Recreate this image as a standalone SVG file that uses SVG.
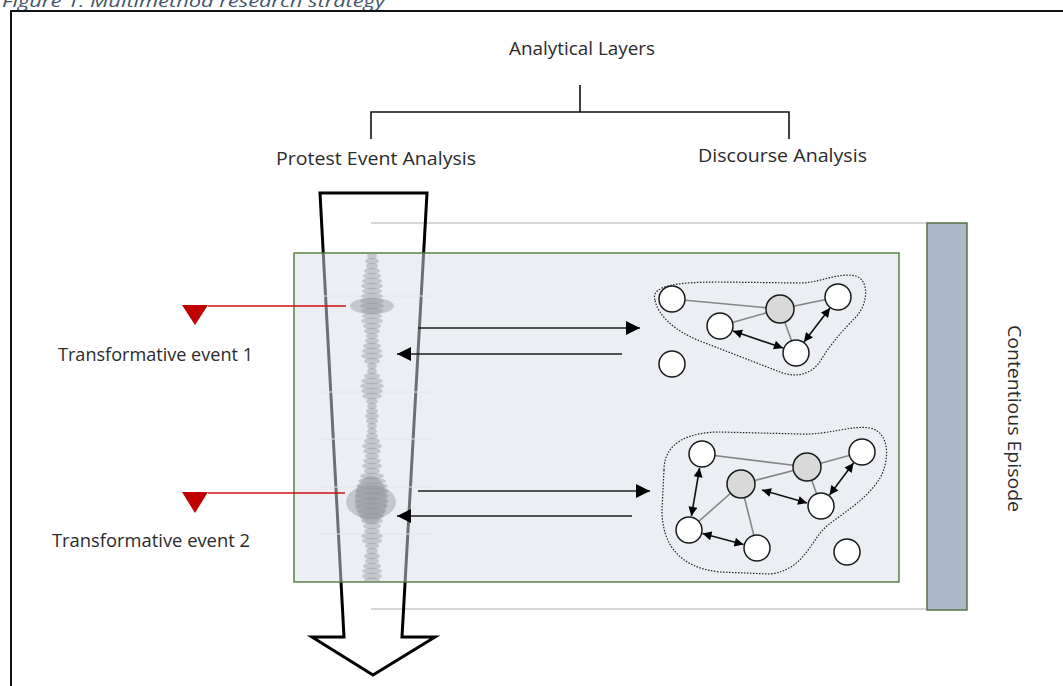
<svg xmlns="http://www.w3.org/2000/svg" width="1063" height="686" viewBox="0 0 1063 686">
  <style>
    .lbl { font-family: "Open Sans", "Liberation Sans", sans-serif; font-size: 18px; font-weight: 400; fill: #2B2B2B; }
    .cap { font-family: "Open Sans", "Liberation Sans", sans-serif; font-size: 17px; font-style: italic; fill: #44546A; }
    .tree { stroke: #111; stroke-width: 1.6; fill: none; }
    .guide { stroke: #C9C9C9; stroke-width: 1.6; }
    .faint { stroke: #E2E6EA; stroke-width: 1; }
    .wave { fill: #8E9297; fill-opacity: 0.42; }
    .red { stroke: #D01010; stroke-width: 1.4; }
    .redtri { fill: #C00000; }
    .flow { stroke: #1E1E1E; stroke-width: 1.6; fill: none; }
    .tie { stroke: #858585; stroke-width: 1.6; }
    .dbl { stroke: #111; stroke-width: 1.6; fill: none; }
    .actor { fill: #FFFFFF; stroke: #1A1A1A; stroke-width: 1.5; }
    .hub { fill: #D9D9D9; stroke: #1A1A1A; stroke-width: 1.5; }
    .blob { fill: none; stroke: #222; stroke-width: 1.2; stroke-dasharray: 1.5 1.5; }
  </style>
  <defs>
    <marker id="head" viewBox="0 0 10 10" refX="10" refY="5" markerWidth="17" markerHeight="14" markerUnits="userSpaceOnUse" orient="auto-start-reverse">
      <path d="M0,0 L10,5 L0,10 z" fill="#000"/>
    </marker>
    <marker id="tip" viewBox="0 0 10 10" refX="10" refY="5" markerWidth="11" markerHeight="9" markerUnits="userSpaceOnUse" orient="auto-start-reverse">
      <path d="M0,0 L10,5 L0,10 z" fill="#000"/>
    </marker>
  </defs>

  <rect width="1063" height="686" fill="#FFFFFF"/>

  <!-- caption, running above the frame -->
  <text class="cap" x="2" y="7" textLength="383" lengthAdjust="spacingAndGlyphs">Figure 1: Multimethod research strategy</text>

  <!-- outer frame -->
  <rect x="11" y="11" width="1070" height="690" fill="none" stroke="#111" stroke-width="2"/>

  <!-- layer tree -->
  <g id="layers">
    <text class="lbl" x="509" y="55" textLength="146" lengthAdjust="spacingAndGlyphs">Analytical Layers</text>
    <path class="tree" d="M580,85 V112 M371,139 V112 H789 V139"/>
    <text class="lbl" x="276" y="165" textLength="200" lengthAdjust="spacingAndGlyphs">Protest Event Analysis</text>
    <text class="lbl" x="698" y="162" textLength="169" lengthAdjust="spacingAndGlyphs">Discourse Analysis</text>
  </g>

  <!-- episode boundary guides -->
  <line class="guide" x1="371" y1="223" x2="928" y2="223"/>
  <line class="guide" x1="371" y1="609" x2="928" y2="609"/>

  <!-- time arrow -->
  <g id="time-arrow">
    <path d="M320,193 H427 L402,637 H435 L373,675 L312,637 H344 Z" fill="none" stroke="#000" stroke-width="3" stroke-linejoin="miter"/>
  </g>

  <!-- episode panel -->
  <g id="panel">
    <rect x="294" y="253" width="605" height="329" fill="#D7DDE5" fill-opacity="0.5" stroke="none"/>
    <rect x="294" y="253" width="605" height="329" fill="none" stroke="#4F7A3A" stroke-width="1.4"/>
    <g>
      <line class="faint" x1="318" y1="296" x2="432" y2="296"/>
      <line class="faint" x1="318" y1="392" x2="432" y2="392"/>
      <line class="faint" x1="318" y1="439" x2="432" y2="439"/>
      <line class="faint" x1="318" y1="487" x2="432" y2="487"/>
      <line class="faint" x1="318" y1="534" x2="432" y2="534"/>
    </g>
  </g>

  <!-- protest event frequency -->
  <g id="event-series">
    <ellipse class="wave" cx="372" cy="306" rx="22" ry="8"/>
    <ellipse class="wave" cx="371" cy="502" rx="25" ry="17"/>
    <ellipse class="wave" cx="371" cy="500" rx="16" ry="24"/>
    <ellipse class="wave" cx="372" cy="256" rx="5" ry="3.2"/>
    <ellipse class="wave" cx="372" cy="261" rx="7" ry="3.2"/>
    <ellipse class="wave" cx="372" cy="266" rx="6" ry="3.2"/>
    <ellipse class="wave" cx="372" cy="271" rx="8" ry="3.2"/>
    <ellipse class="wave" cx="372" cy="276" rx="9" ry="3.2"/>
    <ellipse class="wave" cx="372" cy="281" rx="10" ry="3.2"/>
    <ellipse class="wave" cx="372" cy="286" rx="11" ry="3.2"/>
    <ellipse class="wave" cx="372" cy="291" rx="10" ry="3.2"/>
    <ellipse class="wave" cx="372" cy="296" rx="11" ry="3.2"/>
    <ellipse class="wave" cx="372" cy="301" rx="12" ry="3.2"/>
    <ellipse class="wave" cx="372" cy="306" rx="12" ry="3.2"/>
    <ellipse class="wave" cx="372" cy="311" rx="11" ry="3.2"/>
    <ellipse class="wave" cx="372" cy="316" rx="10" ry="3.2"/>
    <ellipse class="wave" cx="372" cy="321" rx="11" ry="3.2"/>
    <ellipse class="wave" cx="372" cy="326" rx="9" ry="3.2"/>
    <ellipse class="wave" cx="372" cy="331" rx="8" ry="3.2"/>
    <ellipse class="wave" cx="372" cy="336" rx="6" ry="3.2"/>
    <ellipse class="wave" cx="372" cy="341" rx="7" ry="3.2"/>
    <ellipse class="wave" cx="372" cy="346" rx="9" ry="3.2"/>
    <ellipse class="wave" cx="372" cy="351" rx="10" ry="3.2"/>
    <ellipse class="wave" cx="372" cy="356" rx="11" ry="3.2"/>
    <ellipse class="wave" cx="372" cy="361" rx="8" ry="3.2"/>
    <ellipse class="wave" cx="372" cy="366" rx="5" ry="3.2"/>
    <ellipse class="wave" cx="372" cy="371" rx="5" ry="3.2"/>
    <ellipse class="wave" cx="372" cy="376" rx="8" ry="3.2"/>
    <ellipse class="wave" cx="372" cy="381" rx="11" ry="3.2"/>
    <ellipse class="wave" cx="372" cy="386" rx="12" ry="3.2"/>
    <ellipse class="wave" cx="372" cy="391" rx="11" ry="3.2"/>
    <ellipse class="wave" cx="372" cy="396" rx="10" ry="3.2"/>
    <ellipse class="wave" cx="372" cy="401" rx="6" ry="3.2"/>
    <ellipse class="wave" cx="372" cy="406" rx="5" ry="3.2"/>
    <ellipse class="wave" cx="372" cy="411" rx="6" ry="3.2"/>
    <ellipse class="wave" cx="372" cy="416" rx="7" ry="3.2"/>
    <ellipse class="wave" cx="372" cy="421" rx="6" ry="3.2"/>
    <ellipse class="wave" cx="372" cy="426" rx="5" ry="3.2"/>
    <ellipse class="wave" cx="372" cy="431" rx="5" ry="3.2"/>
    <ellipse class="wave" cx="372" cy="436" rx="6" ry="3.2"/>
    <ellipse class="wave" cx="372" cy="441" rx="8" ry="3.2"/>
    <ellipse class="wave" cx="372" cy="446" rx="10" ry="3.2"/>
    <ellipse class="wave" cx="372" cy="451" rx="9" ry="3.2"/>
    <ellipse class="wave" cx="372" cy="456" rx="7" ry="3.2"/>
    <ellipse class="wave" cx="372" cy="461" rx="9" ry="3.2"/>
    <ellipse class="wave" cx="372" cy="466" rx="10" ry="3.2"/>
    <ellipse class="wave" cx="372" cy="471" rx="8" ry="3.2"/>
    <ellipse class="wave" cx="372" cy="476" rx="12" ry="3.2"/>
    <ellipse class="wave" cx="372" cy="481" rx="14" ry="3.2"/>
    <ellipse class="wave" cx="372" cy="486" rx="16" ry="3.2"/>
    <ellipse class="wave" cx="372" cy="491" rx="17" ry="3.2"/>
    <ellipse class="wave" cx="372" cy="496" rx="17" ry="3.2"/>
    <ellipse class="wave" cx="372" cy="501" rx="17" ry="3.2"/>
    <ellipse class="wave" cx="372" cy="506" rx="16" ry="3.2"/>
    <ellipse class="wave" cx="372" cy="511" rx="14" ry="3.2"/>
    <ellipse class="wave" cx="372" cy="516" rx="12" ry="3.2"/>
    <ellipse class="wave" cx="372" cy="521" rx="11" ry="3.2"/>
    <ellipse class="wave" cx="372" cy="526" rx="9" ry="3.2"/>
    <ellipse class="wave" cx="372" cy="531" rx="8" ry="3.2"/>
    <ellipse class="wave" cx="372" cy="536" rx="11" ry="3.2"/>
    <ellipse class="wave" cx="372" cy="541" rx="10" ry="3.2"/>
    <ellipse class="wave" cx="372" cy="546" rx="7" ry="3.2"/>
    <ellipse class="wave" cx="372" cy="551" rx="6" ry="3.2"/>
    <ellipse class="wave" cx="372" cy="556" rx="8" ry="3.2"/>
    <ellipse class="wave" cx="372" cy="561" rx="7" ry="3.2"/>
    <ellipse class="wave" cx="372" cy="566" rx="9" ry="3.2"/>
    <ellipse class="wave" cx="372" cy="571" rx="10" ry="3.2"/>
    <ellipse class="wave" cx="372" cy="576" rx="10" ry="3.2"/>
    <ellipse class="wave" cx="372" cy="580" rx="8" ry="2.5"/>
  </g>

  <!-- transformative events -->
  <g id="event-1">
    <line class="red" x1="208" y1="306" x2="346" y2="306"/>
    <polygon class="redtri" points="182,305 208,305 195,325"/>
    <text class="lbl" x="58" y="361" textLength="195" lengthAdjust="spacingAndGlyphs">Transformative event 1</text>
  </g>
  <g id="event-2">
    <line class="red" x1="208" y1="493" x2="345" y2="493"/>
    <polygon class="redtri" points="182,492 208,492 195,513"/>
    <text class="lbl" x="52" y="547" textLength="198" lengthAdjust="spacingAndGlyphs">Transformative event 2</text>
  </g>

  <!-- links between layers -->
  <g id="connectors">
    <line class="flow" x1="418" y1="328" x2="640" y2="328" marker-end="url(#head)"/>
    <line class="flow" x1="622" y1="354" x2="397" y2="354" marker-end="url(#head)"/>
    <line class="flow" x1="418" y1="491" x2="650" y2="491" marker-end="url(#head)"/>
    <line class="flow" x1="632" y1="516" x2="397" y2="516" marker-end="url(#head)"/>
  </g>

  <!-- discourse network, first event -->
  <g id="network-1">
    <path class="blob" d="M655,300 C650,285 680,282 720,282 L800,283 C820,283 838,272 856,276 C870,281 868,305 855,318 C842,331 830,345 821,360 C812,375 795,378 780,372 L700,341 C675,331 658,316 655,300 Z"/>
    <line class="tie" x1="672" y1="299" x2="780" y2="309"/>
    <line class="tie" x1="780" y1="309" x2="838" y2="297"/>
    <line class="tie" x1="720" y1="326" x2="780" y2="309"/>
    <line class="tie" x1="780" y1="309" x2="796" y2="353"/>
    <line class="dbl" x1="733" y1="331" x2="783" y2="348" marker-start="url(#tip)" marker-end="url(#tip)"/>
    <line class="dbl" x1="804" y1="342" x2="830" y2="308" marker-start="url(#tip)" marker-end="url(#tip)"/>
    <circle class="actor" cx="672" cy="299" r="13"/>
    <circle class="hub" cx="780" cy="309" r="14"/>
    <circle class="actor" cx="838" cy="297" r="13"/>
    <circle class="actor" cx="720" cy="326" r="13"/>
    <circle class="actor" cx="796" cy="353" r="13"/>
    <circle class="actor" cx="672" cy="364" r="13"/>
  </g>

  <!-- discourse network, second event -->
  <g id="network-2">
    <path class="blob" d="M664,470 C664,442 690,432 720,432 L800,434 C830,435 850,425 870,428 C890,432 890,460 880,478 C868,498 845,512 828,525 C810,540 805,570 770,574 L720,572 C680,568 662,545 662,510 Z"/>
    <line class="tie" x1="702" y1="454" x2="807" y2="467"/>
    <line class="tie" x1="807" y1="467" x2="862" y2="452"/>
    <line class="tie" x1="741" y1="484" x2="807" y2="467"/>
    <line class="tie" x1="807" y1="467" x2="821" y2="506"/>
    <line class="tie" x1="741" y1="484" x2="689" y2="530"/>
    <line class="tie" x1="741" y1="484" x2="757" y2="548"/>
    <line class="dbl" x1="699.6" y1="468" x2="691.4" y2="516" marker-start="url(#tip)" marker-end="url(#tip)"/>
    <line class="dbl" x1="702.5" y1="533.6" x2="743.5" y2="544.4" marker-start="url(#tip)" marker-end="url(#tip)"/>
    <line class="dbl" x1="762" y1="490" x2="807" y2="503" marker-start="url(#tip)" marker-end="url(#tip)"/>
    <line class="dbl" x1="829.5" y1="495" x2="853.5" y2="463" marker-start="url(#tip)" marker-end="url(#tip)"/>
    <circle class="actor" cx="702" cy="454" r="13"/>
    <circle class="hub" cx="807" cy="467" r="14"/>
    <circle class="actor" cx="862" cy="452" r="13"/>
    <circle class="hub" cx="741" cy="484" r="14"/>
    <circle class="actor" cx="821" cy="506" r="13"/>
    <circle class="actor" cx="689" cy="530" r="13"/>
    <circle class="actor" cx="757" cy="548" r="13"/>
    <circle class="actor" cx="847" cy="552" r="13"/>
  </g>

  <!-- episode bar -->
  <g id="episode">
    <rect x="927" y="223" width="40" height="387" fill="#ADB9CA" stroke="#4F6B3A" stroke-width="1.4"/>
    <text class="lbl" transform="translate(1008,325) rotate(90)" textLength="187" lengthAdjust="spacingAndGlyphs">Contentious Episode</text>
  </g>
</svg>
